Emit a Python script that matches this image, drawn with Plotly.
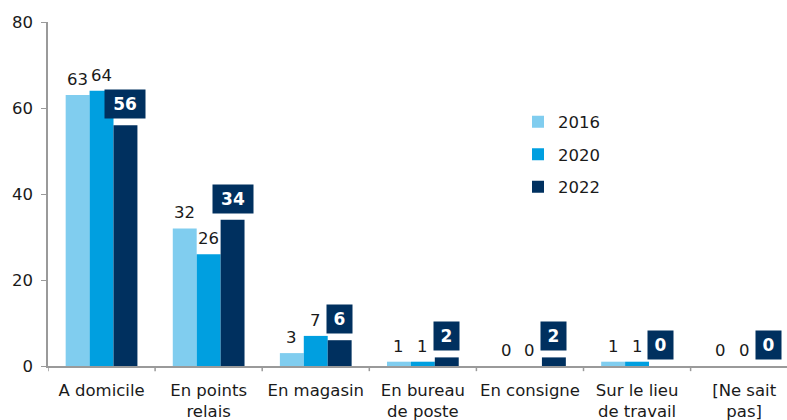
import plotly.graph_objects as go

# Lieux de livraison des achats en ligne (%)
categories = ["A domicile", "En points<br>relais", "En magasin", "En bureau<br>de poste",
              "En consigne", "Sur le lieu<br>de travail", "[Ne sait<br>pas]"]
years = ["2016", "2020", "2022"]
values_2016 = [63, 32, 3, 1, 0, 1, 0]
values_2020 = [64, 26, 7, 1, 0, 1, 0]
values_2022 = [56, 34, 6, 2, 2, 0, 0]
y_ticks = [0, 20, 40, 60, 80]

colors = ["#80CDEF", "#009FE0", "#00305F"]
series = [values_2016, values_2020, values_2022]

BARGAP = 0.33
bar_w = (1 - BARGAP) / 3
FONT = "DejaVu Sans, Verdana, sans-serif"
FS = 16.5

fig = go.Figure()
for k, (name, vals, col) in enumerate(zip(years, series, colors)):
    fig.add_trace(go.Bar(
        x=list(range(len(categories))), y=vals, name=name,
        marker=dict(color=col, line=dict(width=0)),
        legendgroup=name,
    ))

annotations = []
for k, vals in enumerate(series):
    off = (k - 1) * bar_w
    for i, v in enumerate(vals):
        if k < 2:
            annotations.append(dict(
                x=i + off, y=v, xref="x", yref="y", text=str(v),
                showarrow=False, yanchor="bottom", yshift=4,
                font=dict(family=FONT, size=FS, color="#1a1a1a"),
            ))
        else:
            txt = str(v)
            annotations.append(dict(
                x=i + off, y=v, xref="x", yref="y", text="<b>%s</b>" % txt,
                showarrow=False, yanchor="bottom", yshift=6,
                bgcolor="#00305F", borderpad=4,
                width=15 * len(txt) + 2,
                font=dict(family=FONT, size=17, color="white"),
            ))

fig.update_layout(
    width=787, height=420,
    margin=dict(l=48, r=0, t=22, b=54),
    paper_bgcolor="white", plot_bgcolor="white",
    barmode="group", bargap=BARGAP, bargroupgap=0,
    font=dict(family=FONT, size=FS, color="#1a1a1a"),
    annotations=annotations,
    legend=dict(
        x=0.636, y=0.76, xanchor="left", yanchor="top",
        traceorder="grouped", tracegroupgap=8,
        font=dict(family=FONT, size=FS, color="#1a1a1a"),
        bgcolor="rgba(0,0,0,0)",
    ),
    showlegend=True,
)
fig.update_xaxes(
    tickmode="array", tickvals=list(range(len(categories))), ticktext=categories,
    range=[-0.5, 6.4], showline=True, linecolor="#9a9a9a", linewidth=1.5,
    ticks="", showgrid=False, zeroline=False, ticklabelstandoff=8,
    tickfont=dict(family=FONT, size=FS, color="#1a1a1a"),
)
# boundary tick marks between categories
for b in [i - 0.5 for i in range(len(categories) + 1)]:
    fig.add_shape(type="line", xref="x", yref="paper", x0=b, x1=b, y0=0, y1=-0.015,
                  line=dict(color="#9a9a9a", width=1.5))
fig.update_yaxes(
    range=[0, 80], tickvals=y_ticks, showline=True, linecolor="#9a9a9a", linewidth=1.5,
    ticks="outside", ticklen=5, tickcolor="#9a9a9a", showgrid=False, zeroline=False,
    ticklabelstandoff=5,
    tickfont=dict(family=FONT, size=FS, color="#1a1a1a"),
)

fig.write_html("out.html")
